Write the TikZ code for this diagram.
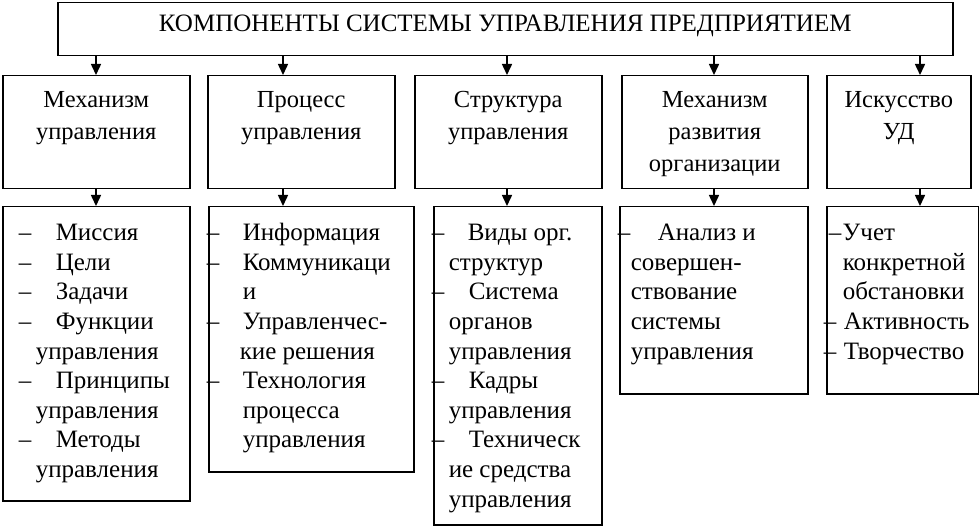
\documentclass[tikz,border=0pt]{standalone}
\usepackage{fontspec}
\setmainfont{Liberation Serif}
\usepackage{tikz}
\usetikzlibrary{arrows.meta}

% text inside the boxes
\newcommand{\headtext}[3]{\parbox[t][#2pt][t]{#1pt}{\centering\hyphenpenalty=10000\rule{0pt}{32pt}#3}}
\newcommand{\listtext}[3]{\parbox[t][#2pt][t]{#1pt}{\raggedright\hyphenpenalty=10000\rule{0pt}{34pt}#3}}
\newcommand{\dashline}[2]{\makebox[0pt][l]{\hspace*{#1pt}–}\hspace*{#2pt}}
\newcommand{\indentline}[1]{\hspace*{#1pt}}

\begin{document}
\begin{tikzpicture}[x=1pt, y=-1pt,
    box/.style={draw, line width=1.5pt, inner sep=0pt, anchor=north west},
    titlefont/.style={font=\fontsize{25}{32}\selectfont},
    headfont/.style={font=\fontsize{24.5}{32}\selectfont},
    listfont/.style={font=\fontsize{25}{29.6}\selectfont},
    arr/.style={line width=1.5pt, -{Triangle[width=10pt,length=11pt]}}]
  \useasboundingbox (0,0) rectangle (979,526);
  % Title
  \node[box, titlefont] (title) at (57,2)
    {\parbox[t][53pt][t]{895pt}{\centering\rule{0pt}{29pt}КОМПОНЕНТЫ СИСТЕМЫ УПРАВЛЕНИЯ ПРЕДПРИЯТИЕМ}};
  % Components
  \node[box, headfont] (m1) at (2,75)   {\headtext{187}{113}{Механизм\\управления}};
  \node[box, headfont] (m2) at (207,75) {\headtext{187}{113}{Процесс\\управления}};
  \node[box, headfont] (m3) at (414,75) {\headtext{187}{113}{Структура\\управления}};
  \node[box, headfont] (m4) at (621,75) {\headtext{186}{113}{Механизм\\развития\\организации}};
  \node[box, headfont] (m5) at (826,75) {\headtext{144}{113}{Искусство\\УД}};
  % Lists
  \node[box, listfont] (l1) at (2,206) {\listtext{187}{294}{%
    \dashline{16}{53}Миссия\\
    \dashline{16}{53}Цели\\
    \dashline{16}{53}Задачи\\
    \dashline{16}{53}Функции\\
    \indentline{33}управления\\
    \dashline{16}{53}Принципы\\
    \indentline{33}управления\\
    \dashline{16}{53}Методы\\
    \indentline{33}управления}};
  \node[box, listfont] (l2) at (208,206) {\listtext{205}{265}{%
    \dashline{-2}{34}Информация\\
    \dashline{-2}{34}Коммуникаци\\
    \indentline{34}и\\
    \dashline{-2}{34}Управленчес-\\
    \indentline{31}кие решения\\
    \dashline{-2}{34}Технология\\
    \indentline{34}процесса\\
    \indentline{34}управления}};
  \node[box, listfont] (l3) at (433,206) {\listtext{168}{318}{%
    \dashline{-2}{34}Виды орг.\\
    \indentline{15}структур\\
    \dashline{-2}{35}Система\\
    \indentline{15}органов\\
    \indentline{15}управления\\
    \dashline{-2}{35}Кадры\\
    \indentline{15}управления\\
    \dashline{-2}{35}Техническ\\
    \indentline{15}ие средства\\
    \indentline{15}управления}};
  \node[box, listfont] (l4) at (619,206) {\listtext{188}{187}{%
    \dashline{-2}{38}Анализ и\\
    \indentline{11}совершен-\\
    \indentline{11}ствование\\
    \indentline{11}системы\\
    \indentline{11}управления}};
  \node[box, listfont] (l5) at (826,206) {\listtext{152}{187}{%
    \dashline{2}{16}Учет\\
    \indentline{16}конкретной\\
    \indentline{16}обстановки\\
    \dashline{-3}{17}Активность\\
    \dashline{-3}{17}Творчество}};
  % Arrows
  \foreach \i/\x in {1/96, 2/283, 3/507, 4/714, 5/920} {
    \coordinate (a\i) at (\x,0);
    \draw[arr] (title.south -| a\i) -- (m\i.north -| a\i);
    \draw[arr] (m\i.south -| a\i) -- (l\i.north -| a\i);
  }
\end{tikzpicture}
\end{document}
